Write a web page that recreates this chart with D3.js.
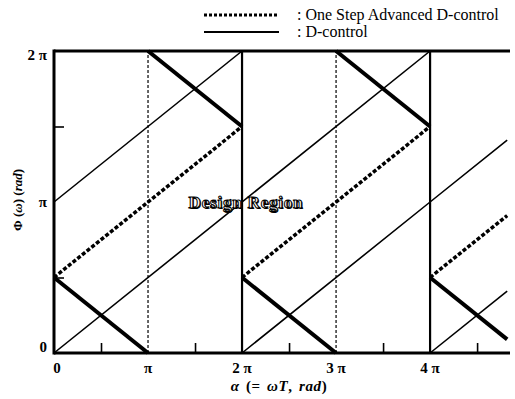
<!DOCTYPE html>
<html><head><meta charset="utf-8">
<script src="https://cdn.jsdelivr.net/npm/d3@7"></script>
<style>body{margin:0;background:#fff}svg{display:block}text{font-family:"Liberation Serif","Times New Roman",serif}</style>
</head><body>
<script>
// values in units of pi
const xLabels = [{v:0,t:"0"},{v:1,t:"π"},{v:2,t:"2 π"},{v:3,t:"3 π"},{v:4,t:"4 π"}];
const yLabels = [{v:0,t:"0"},{v:1,t:"π"},{v:2,t:"2 π"}];
const xMinorTicks = [0.5,1.5,2.5,3.5,4.5];
const yMinorTicks = [0.5,1.5];
// D-control, rising thin lines
const dThin = [[[0,0],[4,2]],[[0,1],[2,2]],[[2,0],[4,1],[4.82,1.41]],[[4,0],[4.82,0.41]]];
// D-control, falling thick lines
const dThick = [[[0,0.5],[1,0]],[[1,2],[2,1.5]],[[2,0.5],[3,0]],[[3,2],[4,1.5]],[[4,0.5],[4.82,0.09]]];
// One Step Advanced D-control
const adv = [[[0,0.5],[2,1.5]],[[2,0.5],[4,1.5]],[[4,0.5],[4.82,0.91]]];
const dashedVerticals = [1,3];
const solidVerticals = [2,4];

const W=515,H=399;
const svg=d3.select("body").append("svg").attr("width",W).attr("height",H);
const x=d3.scaleLinear().domain([0,4.85]).range([54,510]);
const y=d3.scaleLinear().domain([0,2]).range([353,51]);
const line=d3.line().x(d=>x(d[0])).y(d=>y(d[1]));

// verticals
svg.selectAll(".dv").data(dashedVerticals).join("line")
 .attr("x1",d=>x(d)).attr("x2",d=>x(d)).attr("y1",y(0)).attr("y2",y(2))
 .attr("stroke","#000").attr("stroke-width",1.2).attr("stroke-dasharray","3,2");
svg.selectAll(".sv").data(solidVerticals).join("line")
 .attr("x1",d=>x(d)).attr("x2",d=>x(d)).attr("y1",y(0)).attr("y2",y(2))
 .attr("stroke","#000").attr("stroke-width",2.2);

svg.selectAll(".thin").data(dThin).join("path").attr("d",line)
 .attr("fill","none").attr("stroke","#000").attr("stroke-width",1.6);
svg.selectAll(".thick").data(dThick).join("path").attr("d",line)
 .attr("fill","none").attr("stroke","#000").attr("stroke-width",4);
svg.selectAll(".adv").data(adv).join("path").attr("d",line)
 .attr("fill","none").attr("stroke","#000").attr("stroke-width",3.5).attr("stroke-dasharray","4,2");

// axes
const gx=svg.append("g").attr("transform",`translate(0,${y(0)})`)
 .call(d3.axisBottom(x).tickValues(xMinorTicks).tickSizeInner(-10).tickSizeOuter(0).tickFormat(""));
const gy=svg.append("g").attr("transform",`translate(${x(0)},0)`)
 .call(d3.axisLeft(y).tickValues(yMinorTicks).tickSizeInner(-10).tickSizeOuter(0).tickFormat(""));
[gx,gy].forEach(g=>{g.select(".domain").remove();g.selectAll(".tick line").attr("stroke-width",1.6);});
svg.append("line").attr("x1",x(0)).attr("x2",x(4.85)).attr("y1",y(0)).attr("y2",y(0)).attr("stroke","#000").attr("stroke-width",3);
svg.append("line").attr("x1",x(0)).attr("x2",x(0)).attr("y1",y(0)+1.5).attr("y2",y(2)-1.5).attr("stroke","#000").attr("stroke-width",3);
svg.append("line").attr("x1",x(0)).attr("x2",x(4.85)).attr("y1",y(2)).attr("y2",y(2)).attr("stroke","#000").attr("stroke-width",3);

svg.selectAll(".xl").data(xLabels).join("text")
 .attr("x",d=>x(d.v)+(d.v===0?3:0)).attr("y",373).attr("text-anchor","middle")
 .attr("font-size",15).attr("font-weight","bold").text(d=>d.t);
svg.selectAll(".yl").data(yLabels).join("text")
 .attr("x",47).attr("y",d=>y(d.v)+(d.v===0?-1:d.v===2?9:5)).attr("text-anchor","end")
 .attr("font-size",15).attr("font-weight","bold").text(d=>d.t);

// axis titles
const xt=svg.append("text").attr("x",279).attr("y",391).attr("text-anchor","middle").attr("font-size",15).attr("font-weight","bold")
 .attr("letter-spacing",0.6).attr("word-spacing",2);
xt.append("tspan").attr("font-style","italic").text("α");
xt.append("tspan").text(" (= ");
xt.append("tspan").attr("font-style","italic").text("ωT");
xt.append("tspan").text(",  ");
xt.append("tspan").attr("font-style","italic").text("rad");
xt.append("tspan").text(")");
const yt=svg.append("text").attr("transform","translate(22,200) rotate(-90)").attr("text-anchor","middle").attr("font-size",13).attr("font-weight","bold");
yt.append("tspan").text("Φ (");
yt.append("tspan").attr("font-style","italic").text("ω");
yt.append("tspan").text(")  (");
yt.append("tspan").attr("font-style","italic").text("rad");
yt.append("tspan").text(")");

// Design Region label
svg.append("text").attr("x",246).attr("y",208).attr("text-anchor","middle").attr("font-size",17).attr("font-weight","bold")
 .attr("letter-spacing",0.8).attr("fill","#000").attr("transform","translate(1,1)").text("Design Region");
svg.append("text").attr("x",246).attr("y",208).attr("text-anchor","middle").attr("font-size",17).attr("font-weight","bold")
 .attr("letter-spacing",0.8).attr("fill","#fff").attr("stroke","#000").attr("stroke-width",1).text("Design Region");

// legend
const legend=[{t:": One Step Advanced D-control",dash:"3,2",w:3,yy:15},{t:": D-control",dash:null,w:2,yy:32}];
legend.forEach(l=>{
 svg.append("line").attr("x1",204).attr("x2",279).attr("y1",l.yy).attr("y2",l.yy).attr("stroke","#000")
  .attr("stroke-width",l.w).attr("stroke-dasharray",l.dash);
 svg.append("text").attr("x",297).attr("y",l.yy+5).attr("font-size",16).text(l.t);
});
</script>
</body></html>
